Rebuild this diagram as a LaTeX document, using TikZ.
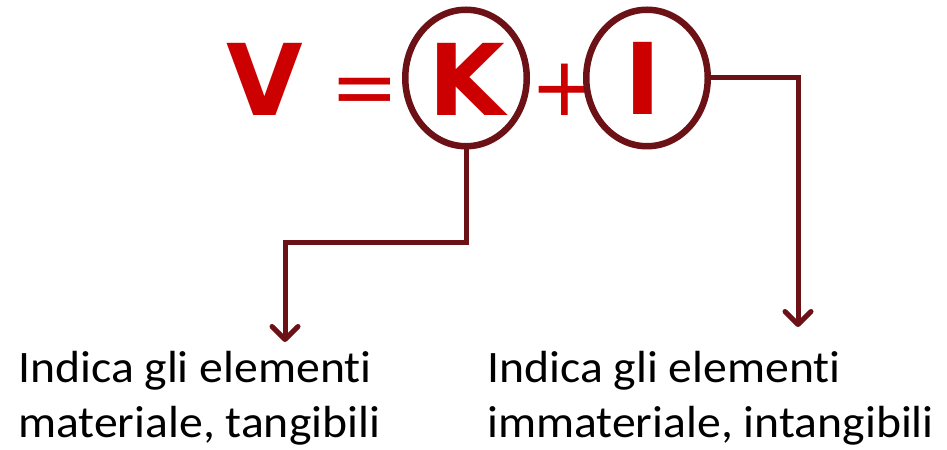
\documentclass[tikz,border=0pt]{standalone}
\usepackage{fontspec}
\setmainfont{Carlito}[FakeStretch=1.06,Ligatures=NoCommon]
\newfontfamily\bigfont{DejaVu Sans}
\usetikzlibrary{arrows.meta,shapes.geometric}
\definecolor{redtxt}{HTML}{CC0000}
\definecolor{darkred}{HTML}{6C1116}
\begin{document}
\begin{tikzpicture}[x=1bp,y=-1bp,
  letter/.style={font=\bigfont\bfseries\fontsize{99bp}{99bp}\selectfont, text=redtxt, inner sep=0, anchor=base},
  op/.style={font=\bigfont\fontsize{82bp}{82bp}\selectfont, text=redtxt, inner sep=0, anchor=base},
  ring/.style={draw=darkred, line width=6.5bp, ellipse, inner sep=0, minimum width=121.5bp, minimum height=136.5bp},
  conn/.style={draw=darkred, line width=5bp, -{Straight Barb[length=13bp,width=26bp,round]}},
  txt/.style={font=\fontsize{45bp}{55bp}\selectfont, inner sep=0, align=left, anchor=base west}
]
\useasboundingbox (0,0) rectangle (947,450);
\node[letter] (v) at (265,116) {V};
\node[op] (eq) at (365,116) {=};
\node[op] (plus) at (564.5,116) {+};
\node[ring] (kc) at (466,78) {};
\node[ring] (ic) at (647,78) {};
\node[letter] (k) at (466.5,116) {K};
\node[letter] (i) at (642.5,115) {I};
\coordinate (kbend) at (466,243);
\coordinate (kend) at (285,342);
\coordinate (iend) at (798,327);
\draw[conn] (kc.south) -- (kbend) -| (kend);
\draw[conn] (ic.east) -| (iend);
\node[txt] (lt) at (18,437) {Indica gli elementi\\materiale, tangibili};
\node[txt] (rt) at (487,437) {Indica gli elementi\\immateriale, intangibili};
\end{tikzpicture}
\end{document}
